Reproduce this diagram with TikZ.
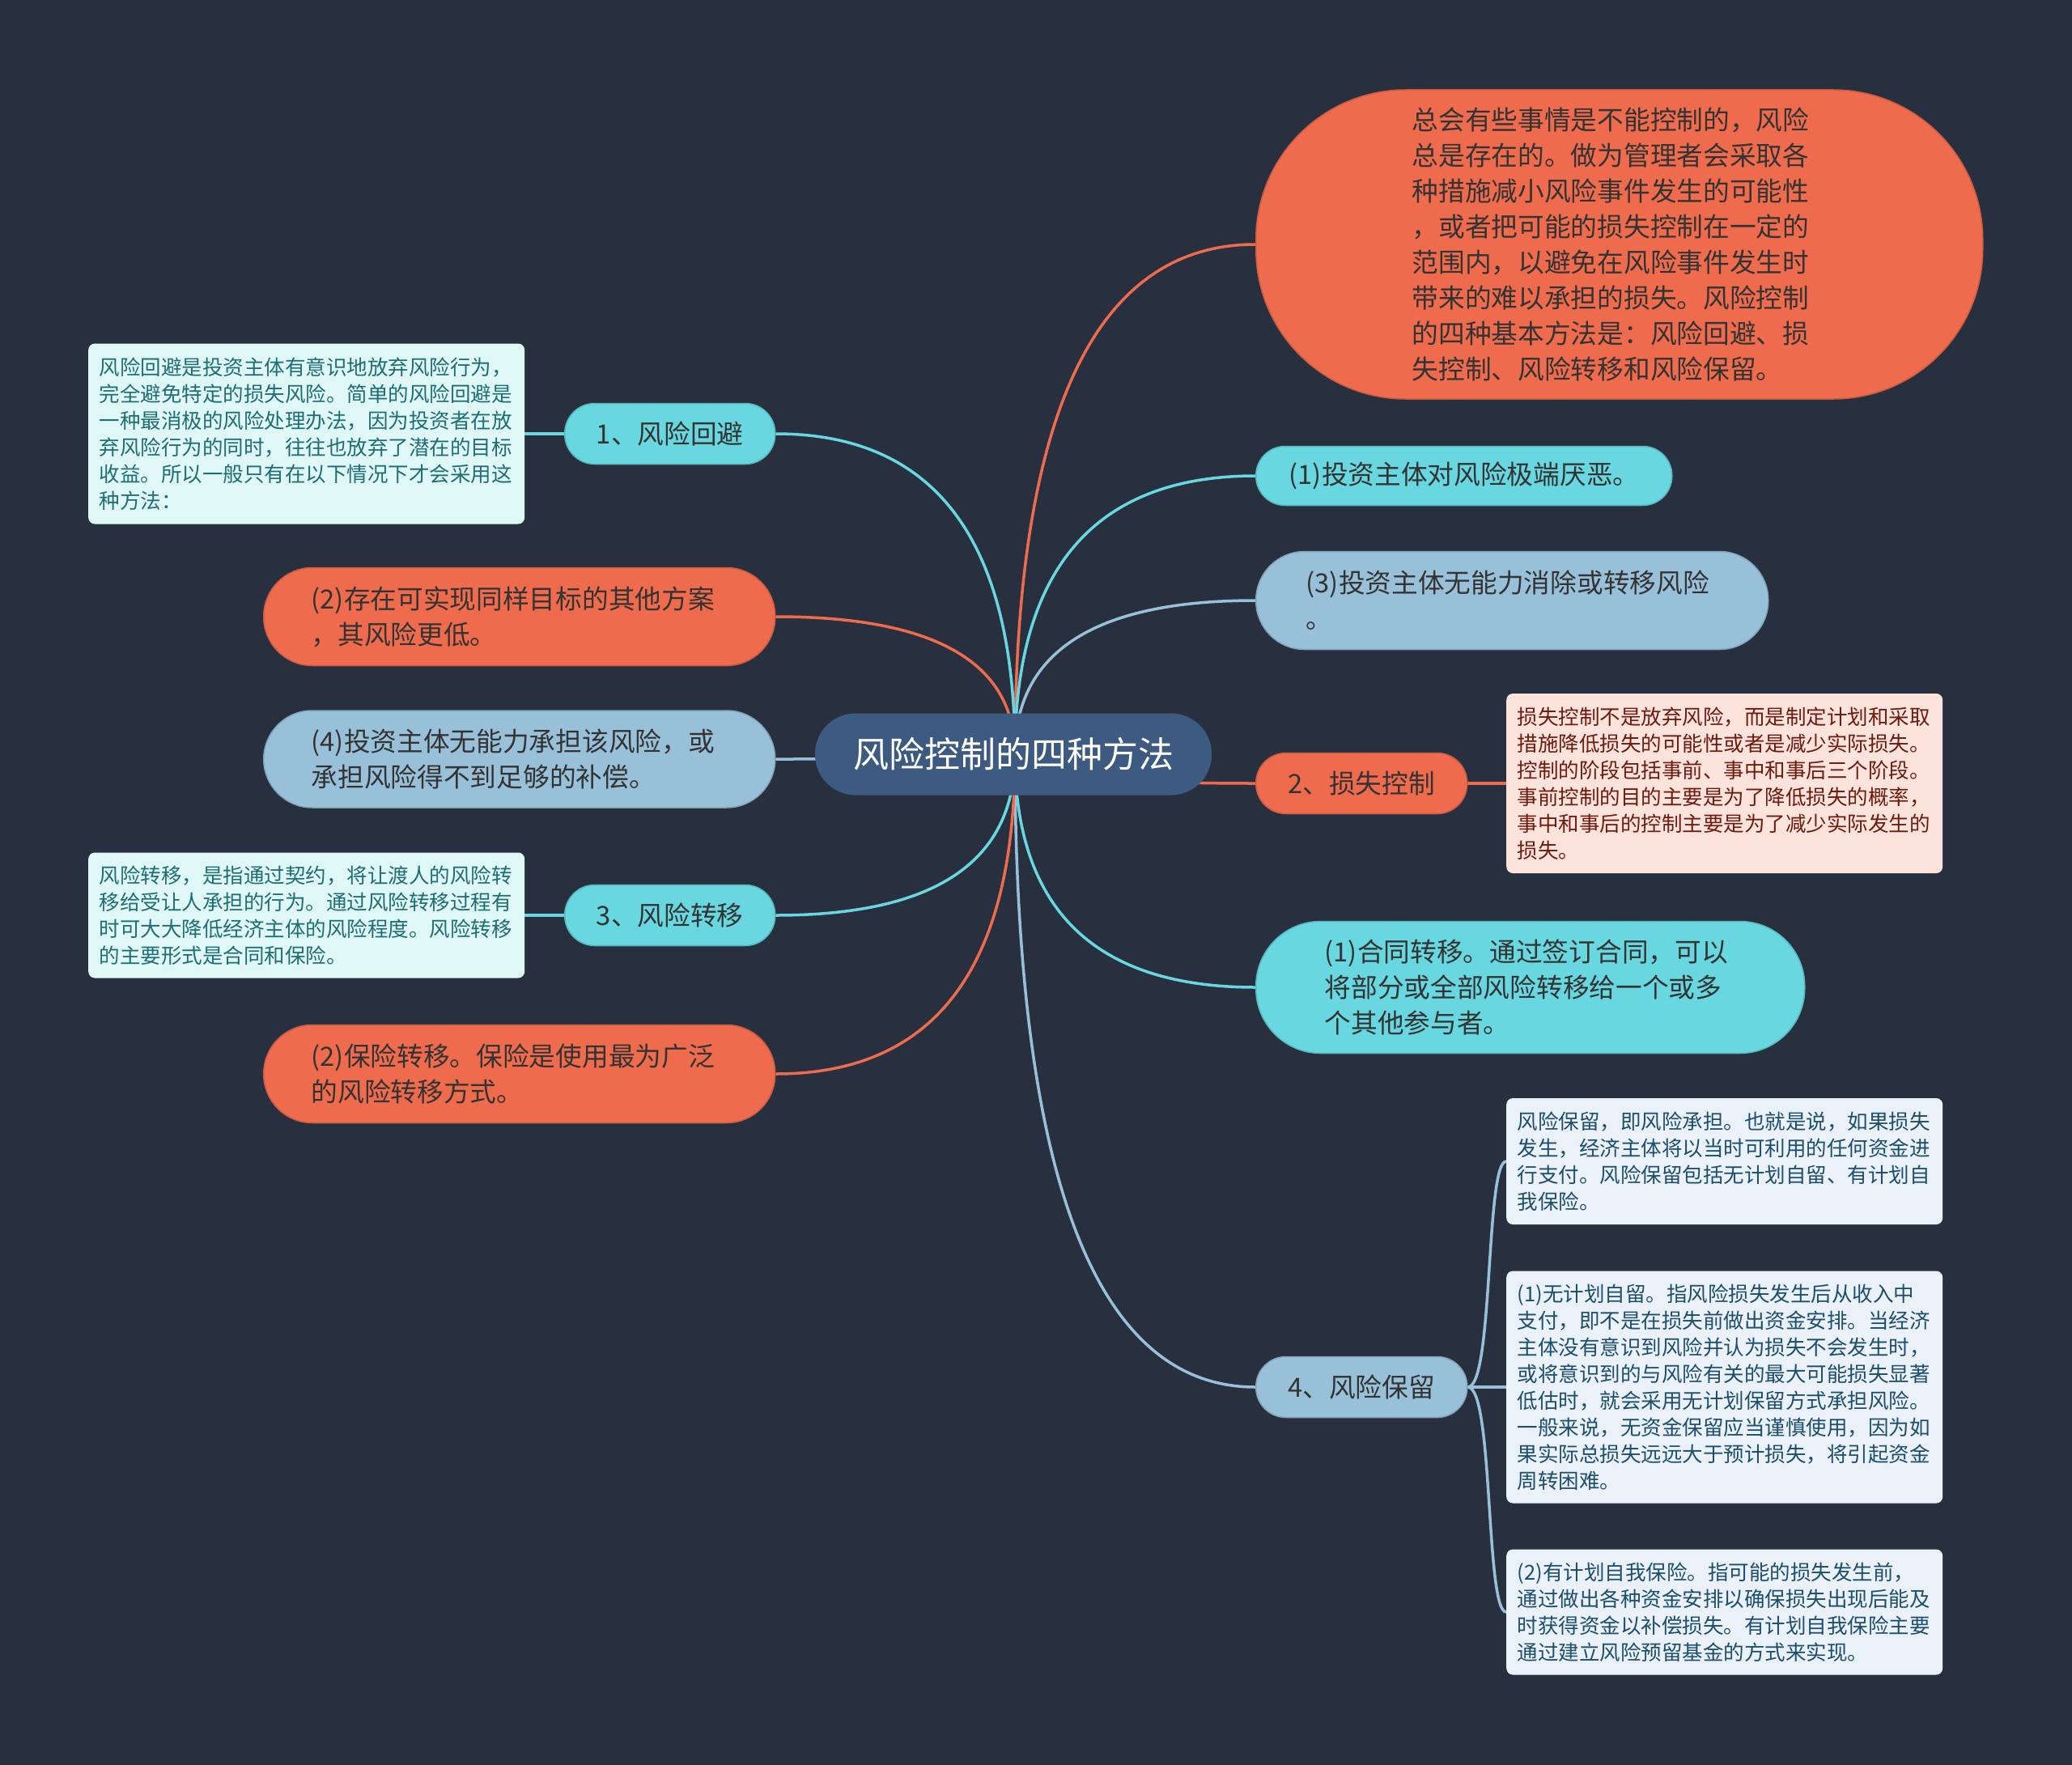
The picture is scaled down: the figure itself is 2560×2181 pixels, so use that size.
\documentclass[tikz,border=0pt]{standalone}
\usepackage{fontspec}
\usetikzlibrary{calc}
\setmainfont{Noto Sans CJK SC}
\definecolor{bgc}{HTML}{28303F}
\definecolor{orng}{HTML}{EE6C4D}
\definecolor{cyn}{HTML}{68D7E0}
\definecolor{lblu}{HTML}{98C1D9}
\definecolor{ctr}{HTML}{3D5A80}
\definecolor{ncyfill}{HTML}{E0F7F8}
\definecolor{ncytext}{HTML}{1E6E73}
\definecolor{npkfill}{HTML}{FCE4DD}
\definecolor{npktext}{HTML}{6E1A0E}
\definecolor{nblfill}{HTML}{EAF1F8}
\definecolor{nbltext}{HTML}{1D4E6E}
\definecolor{dtext}{HTML}{333333}
\pgfdeclarelayer{bglayer}
\pgfdeclarelayer{edgelayer}
\pgfsetlayers{bglayer,edgelayer,main}
\tikzset{
  medfont/.style={font=\fontsize{32.7}{44}\selectfont},
  notefont/.style={font=\fontsize{25.5}{33}\selectfont},
  pill/.style={medfont, text=dtext, anchor=west, inner ysep=0pt, align=left},
  opill/.style={pill, fill=orng, draw=orng!85!black, line width=1.5pt},
  cpill/.style={pill, fill=cyn, draw=cyn!85!black, line width=1.5pt},
  bpill/.style={pill, fill=lblu, draw=lblu!85!black, line width=1.5pt},
  shortpill/.style={medfont, text=dtext, anchor=west, inner sep=0pt, align=center,
    minimum width=261pt, minimum height=75pt, rounded corners=37pt, line width=1.5pt},
  notebox/.style={notefont, anchor=west, inner xsep=13.5pt, inner ysep=0pt,
    text width=512pt, align=left, rounded corners=8pt, minimum height=#1},
  ncy/.style={fill=ncyfill, text=ncytext},
  npk/.style={fill=npkfill, text=npktext},
  nbl/.style={fill=nblfill, text=nbltext},
  edge/.style={line width=3.5pt, line cap=round},
}
% quadratic-like branch from (cc) to anchor #2 with colour #1
\newcommand{\branch}[2]{%
  \draw[edge, #1] (cc) .. controls ($(cc)!0.667!(cc |- #2)$) and ($(#2)!0.667!(cc |- #2)$) .. (#2);}
\begin{document}
\begin{tikzpicture}[x=1pt,y=-1pt]
\begin{pgfonlayer}{bglayer}
\fill[bgc] (0,0) rectangle (2560,2181);
\end{pgfonlayer}
\useasboundingbox (0,0) rectangle (2560,2181);

% center
\node[fill=ctr, text=white, font=\fontsize{44}{52}\selectfont, inner sep=0pt,
  minimum width=490pt, minimum height=101pt, rounded corners=50pt] (c) at (1252,932) {风险控制的四种方法};
\coordinate (cc) at (1254,932);

% right side
\node[opill, inner xsep=193pt, text width=512pt, minimum height=382pt, rounded corners=185pt] (t0) at (1551,302)
{总会有些事情是不能控制的，风险\\总是存在的。做为管理者会采取各\\种措施减小风险事件发生的可能性\\，或者把可能的损失控制在一定的\\范围内，以避免在风险事件发生时\\带来的难以承担的损失。风险控制\\的四种基本方法是：风险回避、损\\失控制、风险转移和风险保留。};

\node[cpill, inner xsep=41pt, text width=432pt, minimum height=73pt, rounded corners=36pt] (r1) at (1551,588)
{(1)投资主体对风险极端厌恶。};

\node[bpill, inner xsep=62pt, text width=509pt, minimum height=121pt, rounded corners=60pt] (r3) at (1551,742)
{(3)投资主体无能力消除或转移风险\\。};

\node[shortpill, fill=orng, draw=orng!85!black] (r2) at (1551,968) {2、损失控制};

\node[notebox=222pt, npk] (rn2) at (1861,968)
{损失控制不是放弃风险，而是制定计划和采取\\措施降低损失的可能性或者是减少实际损失。\\控制的阶段包括事前、事中和事后三个阶段。\\事前控制的目的主要是为了降低损失的概率，\\事中和事后的控制主要是为了减少实际发生的\\损失。};

\node[cpill, inner xsep=85pt, text width=508pt, minimum height=163pt, rounded corners=80pt] (r4) at (1551,1220)
{(1)合同转移。通过签订合同，可以\\将部分或全部风险转移给一个或多\\个其他参与者。};

\node[shortpill, fill=lblu, draw=lblu!85!black] (r5) at (1551,1714) {4、风险保留};

\node[notebox=156pt, nbl] (na) at (1861,1435)
{风险保留，即风险承担。也就是说，如果损失\\发生，经济主体将以当时可利用的任何资金进\\行支付。风险保留包括无计划自留、有计划自\\我保险。};

\node[notebox=287pt, nbl] (nb) at (1861,1714)
{(1)无计划自留。指风险损失发生后从收入中\\支付，即不是在损失前做出资金安排。当经济\\主体没有意识到风险并认为损失不会发生时，\\或将意识到的与风险有关的最大可能损失显著\\低估时，就会采用无计划保留方式承担风险。\\一般来说，无资金保留应当谨慎使用，因为如\\果实际总损失远远大于预计损失，将引起资金\\周转困难。};

\node[notebox=155pt, nbl] (nc) at (1861,1992)
{(2)有计划自我保险。指可能的损失发生前，\\通过做出各种资金安排以确保损失出现后能及\\时获得资金以补偿损失。有计划自我保险主要\\通过建立风险预留基金的方式来实现。};

% left side
\node[shortpill, fill=cyn, draw=cyn!85!black, minimum width=260pt] (l1) at (697,536) {1、风险回避};

\node[notebox=223pt, ncy] (ln1) at (109,536)
{风险回避是投资主体有意识地放弃风险行为，\\完全避免特定的损失风险。简单的风险回避是\\一种最消极的风险处理办法，因为投资者在放\\弃风险行为的同时，往往也放弃了潜在的目标\\收益。所以一般只有在以下情况下才会采用这\\种方法：};

\node[opill, inner xsep=59pt, text width=514pt, minimum height=121pt, rounded corners=60pt] (l2) at (325,762)
{(2)存在可实现同样目标的其他方案\\，其风险更低。};

\node[bpill, inner xsep=59pt, text width=514pt, minimum height=120pt, rounded corners=60pt] (l3) at (325,938)
{(4)投资主体无能力承担该风险，或\\承担风险得不到足够的补偿。};

\node[shortpill, fill=cyn, draw=cyn!85!black, minimum width=260pt] (l4) at (697,1131) {3、风险转移};

\node[notebox=155pt, ncy] (ln4) at (109,1131)
{风险转移，是指通过契约，将让渡人的风险转\\移给受让人承担的行为。通过风险转移过程有\\时可大大降低经济主体的风险程度。风险转移\\的主要形式是合同和保险。};

\node[opill, inner xsep=59pt, text width=514pt, minimum height=121pt, rounded corners=60pt] (l5) at (325,1327)
{(2)保险转移。保险是使用最为广泛\\的风险转移方式。};

% edges
\begin{pgfonlayer}{edgelayer}
\branch{orng}{t0.west}
\branch{cyn}{r1.west}
\branch{lblu}{r3.west}
\branch{orng}{r2.west}
\branch{cyn}{r4.west}
\branch{lblu}{r5.west}
\branch{cyn}{l1.east}
\branch{orng}{l2.east}
\branch{lblu}{l3.east}
\branch{cyn}{l4.east}
\branch{orng}{l5.east}
\draw[edge, orng] (r2.east) -- (rn2.west);
\draw[edge, cyn] (l1.west) -- (ln1.east);
\draw[edge, cyn] (l4.west) -- (ln4.east);
\draw[edge, lblu] (r5.east) .. controls ([xshift=32pt]r5.east) and ([xshift=-26pt]na.west) .. (na.west);
\draw[edge, lblu] (r5.east) -- (nb.west);
\draw[edge, lblu] (r5.east) .. controls ([xshift=32pt]r5.east) and ([xshift=-26pt]nc.west) .. (nc.west);
\end{pgfonlayer}
\end{tikzpicture}
\end{document}
